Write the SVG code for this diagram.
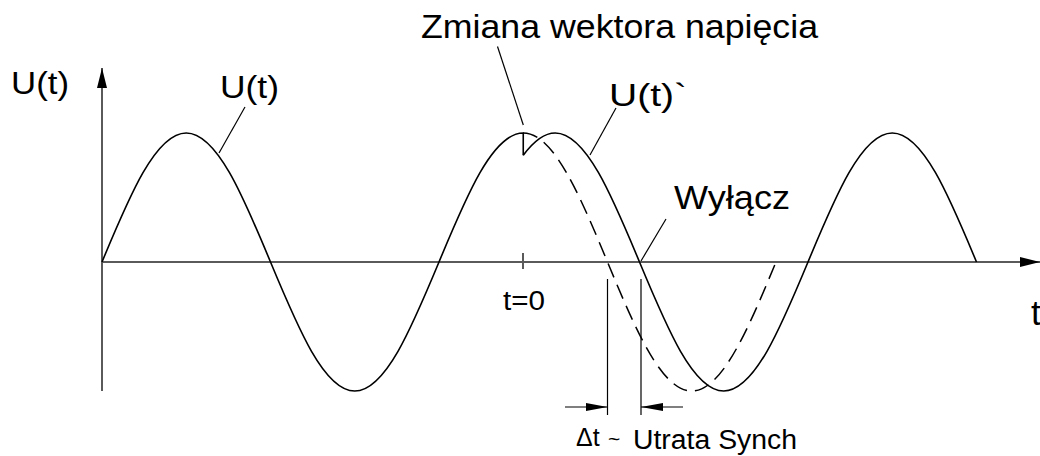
<svg xmlns="http://www.w3.org/2000/svg" width="1040" height="456" viewBox="0 0 1040 456">
  <style>
    .axis { stroke: #5a5a5a; stroke-width: 2; fill: none; }
    .curve { stroke: #000; stroke-width: 1.6; fill: none; }
    .dash { stroke: #000; stroke-width: 1.5; fill: none; stroke-dasharray: 15 8; }
    .thin { stroke: #000; stroke-width: 1.2; fill: none; }
    .lbl { font-family: "Liberation Sans", Arial, sans-serif; fill: #000; }
  </style>
  <defs>
    <marker id="axArrow" viewBox="0 0 20 10" refX="20" refY="5" markerWidth="20" markerHeight="10" markerUnits="userSpaceOnUse" orient="auto">
      <path d="M0,0 L20,5 L0,10 Z" fill="#000"/>
    </marker>
    <marker id="dimArrow" viewBox="0 0 22 8" refX="22" refY="4" markerWidth="22" markerHeight="8" markerUnits="userSpaceOnUse" orient="auto">
      <path d="M0,0 L22,4 L0,8 Z" fill="#000"/>
    </marker>
  </defs>

  <g id="axes">
    <line class="axis" x1="102" y1="391" x2="102" y2="68" marker-end="url(#axArrow)"/>
    <line class="axis" x1="102" y1="262" x2="1040" y2="262" marker-end="url(#axArrow)"/>
    <line class="axis" x1="523" y1="253" x2="523" y2="269" stroke-width="1.5"/>
  </g>

  <g id="curves">
    <path id="u-original" class="curve" d="M102,262 C129.48,195.91 155.76,133 186.25,133 C216.74,133 243.02,195.91 270.5,262 C297.98,328.09 324.26,391 354.75,391 C385.24,391 411.52,328.09 439,262 C466.48,195.91 492.76,133 523.25,133 L523.25,155.3"/>
    <path id="u-continued" class="dash" d="M523.25,133 C553.74,133 580.02,195.91 607.5,262 C634.98,328.09 661.26,391 691.75,391 C722.24,391 748.52,328.09 776,262"/>
    <path id="u-shifted" class="curve" d="M523.25,155.3 C533.92,140.9 544.58,133 555.25,133 C585.74,133 612.02,195.91 639.5,262 C666.98,328.09 693.26,391 723.75,391 C754.24,391 780.52,328.09 808,262 C835.48,195.91 861.76,133 892.25,133 C922.74,133 949.02,195.91 976.5,262"/>
  </g>

  <g id="connectors">
    <line class="thin" x1="245" y1="107" x2="219" y2="153"/>
    <line class="thin" x1="497.5" y1="46.5" x2="523.3" y2="125"/>
    <line class="thin" x1="616" y1="108" x2="590" y2="155"/>
    <line class="thin" x1="666" y1="219" x2="641" y2="261"/>
    <line class="thin" x1="607.5" y1="279" x2="607.5" y2="415"/>
    <line class="thin" x1="641" y1="279" x2="641" y2="415"/>
    <line class="thin" x1="565" y1="407" x2="607.5" y2="407" marker-end="url(#dimArrow)"/>
    <line class="thin" x1="683" y1="407" x2="641" y2="407" marker-end="url(#dimArrow)"/>
  </g>

  <g id="labels">
    <text id="lbl-axis-u" class="lbl" x="11" y="94" font-size="31" textLength="58" lengthAdjust="spacingAndGlyphs">U(t)</text>
    <text id="lbl-u" class="lbl" x="220" y="98" font-size="31" textLength="59" lengthAdjust="spacingAndGlyphs">U(t)</text>
    <text id="lbl-change" class="lbl" x="421" y="38" font-size="34" textLength="397" lengthAdjust="spacingAndGlyphs">Zmiana wektora napięcia</text>
    <text id="lbl-u-prime" class="lbl" x="609" y="106" font-size="31" textLength="78" lengthAdjust="spacingAndGlyphs">U(t)`</text>
    <text id="lbl-off" class="lbl" x="674" y="209" font-size="34" textLength="116" lengthAdjust="spacingAndGlyphs">Wyłącz</text>
    <text id="lbl-t0" class="lbl" x="503" y="310" font-size="27" textLength="42" lengthAdjust="spacingAndGlyphs">t=0</text>
    <text id="lbl-t" class="lbl" x="1031" y="325" font-size="35">t</text>
    <text id="lbl-dt" class="lbl" x="576" y="446" font-size="25">Δt</text>
    <text id="lbl-tilde" class="lbl" x="608" y="446" font-size="21">~</text>
    <text id="lbl-sync" class="lbl" x="633" y="449" font-size="27" textLength="164" lengthAdjust="spacingAndGlyphs">Utrata Synch</text>
  </g>
</svg>
